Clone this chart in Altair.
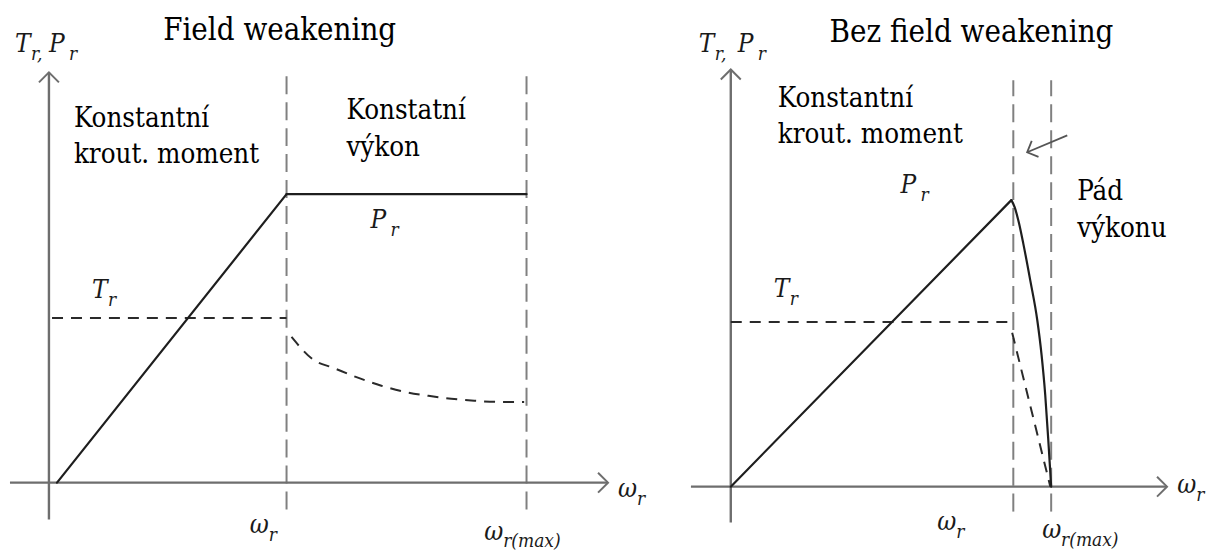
import altair as alt
import pandas as pd

# ---------------- data ----------------
# omega in units of omega_r, power/torque in units of P_max
# Left panel: "Field weakening"
L_TITLE = "Field weakening"
L_W_MAX = 2.01
L_P_seg = ["rise", "rise", "flat", "flat"]
L_P_w = [0.034, 1.0, 1.0, 2.01]
L_P_v = [0.0, 1.0, 1.0, 1.0]
L_T_seg = ["flat", "flat"] + ["curve"] * 11
L_T_w = [0.013, 1.0, 1.021, 1.113, 1.197, 1.303, 1.399, 1.496, 1.597, 1.693, 1.790, 1.891, 2.0]
L_T_v = [0.571, 0.571, 0.505, 0.426, 0.398, 0.363, 0.336, 0.315, 0.301, 0.291, 0.284, 0.280, 0.280]
L_BODY = ["Konstantní", "krout. moment", "Konstatní", "výkon"]
L_BODY_w = [0.105, 0.105, 1.252, 1.252]
L_BODY_v = [1.232, 1.107, 1.260, 1.132]
L_SYM = ["T", "P", "P", "T", "ω", "ω", "ω"]
L_SUB = ["r,", "r", "r", "r", "r", "r(max)", "r"]
L_SYM_w = [-0.143, 0.0, 1.353, 0.181, 0.845, 1.832, 2.395]
L_SYM_v = [1.491, 1.491, 0.882, 0.640, -0.173, -0.197, -0.048]

# Right panel: "Bez field weakening"
R_TITLE = "Bez field weakening"
R_W_MAX = 1.134
R_P_seg = ["rise", "rise"] + ["fall"] * 10
R_P_w = [0.0, 0.993, 0.993, 1.005, 1.020, 1.035, 1.060, 1.085, 1.100, 1.113, 1.124, 1.134]
R_P_v = [0.0, 1.0, 1.0, 0.975, 0.920, 0.850, 0.720, 0.580, 0.460, 0.320, 0.160, 0.0]
R_T_seg = ["flat", "flat", "drop", "drop"]
R_T_w = [0.0, 0.989, 0.996, 1.131]
R_T_v = [0.575, 0.575, 0.537, 0.0]
R_BODY = ["Konstantní", "krout. moment", "Pád", "výkonu"]
R_BODY_w = [0.166, 0.166, 1.226, 1.226]
R_BODY_v = [1.324, 1.199, 1.0, 0.871]
R_SYM = ["T", "P", "P", "T", "ω", "ω", "ω"]
R_SUB = ["r,", "r", "r", "r", "r", "r(max)", "r"]
R_SYM_w = [-0.113, 0.025, 0.601, 0.152, 0.731, 1.102, 1.580]
R_SYM_v = [1.516, 1.516, 1.024, 0.662, -0.150, -0.178, -0.021]
R_NOTE_w = [1.191, 1.049]   # small pointer arrow
R_NOTE_v = [1.226, 1.167]

FONT = "DejaVu Serif Condensed, DejaVu Serif"
CHEVRON = "M-1,-1L0,0L-1,1"
SUB_DX = {"T": 16, "P": 20, "ω": 19}


def panel(cfg):
    xs = alt.Scale(domain=cfg["xdom"], nice=False, zero=False)
    ys = alt.Scale(domain=cfg["ydom"], nice=False, zero=False)
    X = lambda f="w": alt.X(f"{f}:Q", scale=xs, axis=None)
    Y = lambda f="v": alt.Y(f"{f}:Q", scale=ys, axis=None)

    axes = pd.DataFrame(cfg["axes"], columns=["w", "v", "w2", "v2"])
    heads = pd.DataFrame(cfg["heads"], columns=["w", "v", "ang"])
    guides = pd.DataFrame(cfg["guides"], columns=["w", "v", "w2", "v2"])
    pdf = pd.DataFrame({"w": cfg["P_w"], "v": cfg["P_v"], "seg": cfg["P_seg"]})
    tdf = pd.DataFrame({"w": cfg["T_w"], "v": cfg["T_v"], "seg": cfg["T_seg"]})
    body = pd.DataFrame({"w": cfg["body_w"], "v": cfg["body_v"], "t": cfg["body"]})
    sym = pd.DataFrame({"w": cfg["sym_w"], "v": cfg["sym_v"], "m": cfg["sym"], "s": cfg["sub"]})
    title = pd.DataFrame({"w": [cfg["title_w"]], "v": [cfg["title_v"]], "t": [cfg["title"]]})

    layers = [
        alt.Chart(guides).mark_rule(color="#808080", strokeWidth=2, strokeDash=[18, 8]).encode(
            x=X(), y=Y(), x2="w2:Q", y2="v2:Q"),
        alt.Chart(axes).mark_rule(color="#6e6e6e", strokeWidth=2.4).encode(
            x=X(), y=Y(), x2="w2:Q", y2="v2:Q"),
        alt.Chart(heads).mark_point(shape=CHEVRON, filled=False, size=400, color="#6e6e6e",
                                    strokeWidth=2, opacity=1).encode(
            x=X(), y=Y(), angle=alt.Angle("ang:Q", scale=None)),
        alt.Chart(tdf).mark_line(color="#2a2a2a", strokeWidth=2, strokeDash=[11, 8],
                                 interpolate="monotone").encode(x=X(), y=Y(), detail="seg:N"),
        alt.Chart(pdf).mark_line(color="#1e1e1e", strokeWidth=2.2, interpolate="monotone",
                                 strokeCap="round").encode(x=X(), y=Y(), detail="seg:N"),
        alt.Chart(title).mark_text(font=FONT, fontSize=31, align="center",
                                   baseline="alphabetic", color="#000").encode(
            x=X(), y=Y(), text="t:N"),
        alt.Chart(body).mark_text(font=FONT, fontSize=27.5, align="left", baseline="alphabetic",
                                  color="#000").encode(x=X(), y=Y(), text="t:N"),
        alt.Chart(sym).mark_text(font=FONT, fontSize=26, fontStyle="italic", align="left",
                                 baseline="alphabetic", color="#1a1a1a").encode(
            x=X(), y=Y(), text="m:N"),
    ]
    for letter in ("T", "P", "ω"):
        layers.append(
            alt.Chart(sym).transform_filter(alt.datum.m == letter).mark_text(
                font=FONT, fontSize=19, fontStyle="italic", align="left",
                baseline="alphabetic", color="#1a1a1a", dx=SUB_DX[letter], dy=8).encode(
                x=X(), y=Y(), text="s:N"))
    if "note_w" in cfg:
        nd = pd.DataFrame({"w": [cfg["note_w"][0]], "v": [cfg["note_v"][0]],
                           "w2": [cfg["note_w"][1]], "v2": [cfg["note_v"][1]]})
        layers.append(alt.Chart(nd).mark_rule(color="#555", strokeWidth=1.8).encode(
            x=X(), y=Y(), x2="w2:Q", y2="v2:Q"))
        hd = pd.DataFrame({"w": [cfg["note_w"][1]], "v": [cfg["note_v"][1]], "ang": [157]})
        layers.append(alt.Chart(hd).mark_point(shape=CHEVRON, filled=False, size=300, color="#555",
                                               strokeWidth=1.8, opacity=1).encode(
            x=X(), y=Y(), angle=alt.Angle("ang:Q", scale=None)))
    return alt.layer(*layers).properties(width=cfg["width"], height=540)


left_cfg = dict(
    xdom=[-0.1639, 2.6092], ydom=[-0.2249, 1.6436], width=660,
    axes=[[-0.164, 0, 2.353, 0], [0, -0.128, 0, 1.422]],
    heads=[[2.353, 0, 0], [0, 1.422, 270]],
    guides=[[1.0, -0.093, 1.0, 1.436], [L_W_MAX, -0.093, L_W_MAX, 1.436]],
    P_w=L_P_w, P_v=L_P_v, P_seg=L_P_seg, T_w=L_T_w, T_v=L_T_v, T_seg=L_T_seg,
    body=L_BODY, body_w=L_BODY_w, body_v=L_BODY_v,
    sym=L_SYM, sub=L_SUB, sym_w=L_SYM_w, sym_v=L_SYM_v,
    title=L_TITLE, title_w=0.971, title_v=1.533,
)
right_cfg = dict(
    xdom=[-0.1837, 1.6820], ydom=[-0.2125, 1.6690], width=528,
    axes=[[-0.141, 0, 1.544, 0], [0, -0.125, 0, 1.456]],
    heads=[[1.544, 0, 0], [0, 1.456, 270]],
    guides=[[1.0, -0.087, 1.0, 1.418], [R_W_MAX, -0.087, R_W_MAX, 1.418]],
    P_w=R_P_w, P_v=R_P_v, P_seg=R_P_seg, T_w=R_T_w, T_v=R_T_v, T_seg=R_T_seg,
    body=R_BODY, body_w=R_BODY_w, body_v=R_BODY_v,
    sym=R_SYM, sub=R_SUB, sym_w=R_SYM_w, sym_v=R_SYM_v,
    title=R_TITLE, title_w=0.852, title_v=1.551,
    note_w=R_NOTE_w, note_v=R_NOTE_v,
)

chart = alt.hconcat(
    panel(left_cfg), panel(right_cfg), spacing=10, bounds="flush",
).properties(padding=0, background="white").configure_view(strokeWidth=0)

chart.save("out.html", embed_options={"renderer": "svg", "actions": False})
